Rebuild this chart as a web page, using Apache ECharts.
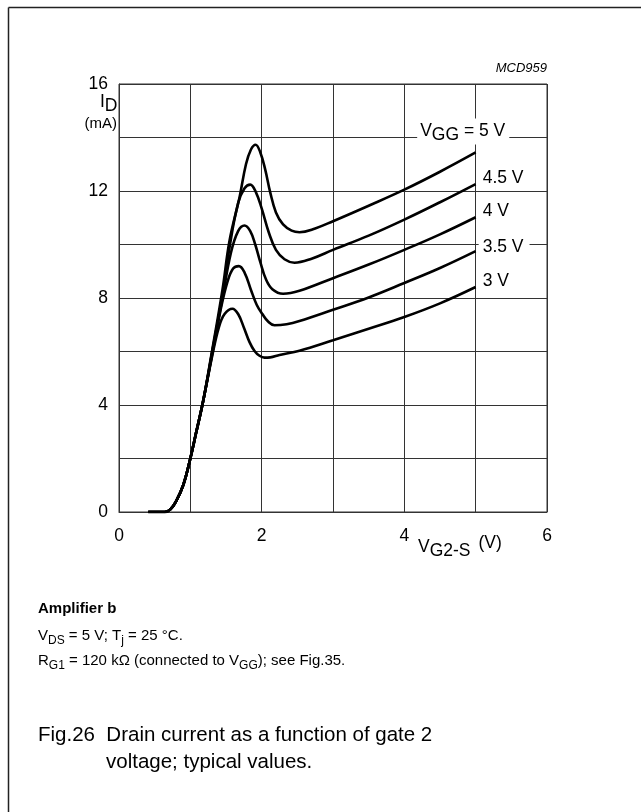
<!DOCTYPE html>
<html><head><meta charset="utf-8">
<script src="https://cdn.jsdelivr.net/npm/echarts@6/dist/echarts.min.js"></script>
<style>html,body{margin:0;padding:0;background:#fff}#c{width:641px;height:812px}</style>
</head><body><div id="c"></div>
<script>
// ---- data ----
const xTickLabels = [0, 2, 4, 6];
const yTickLabels = [0, 4, 8, 12, 16];
// common rising part shared by all curves
const riseX = [0.41, 0.64, 0.72, 0.80, 0.90, 1.00, 1.08, 1.18];
const riseY = [0, 0, 0.1, 0.4, 1.0, 2.0, 2.95, 4.15];
// VGG = 3 V
const v30X = [1.30, 1.40, 1.48, 1.59, 1.67, 1.75, 1.83, 1.90, 1.97, 2.04, 2.12, 2.25, 2.53, 3.00, 3.50, 4.00, 4.50, 5.00];
const v30Y = [5.75, 6.9, 7.4, 7.6, 7.4, 6.9, 6.35, 6.02, 5.84, 5.77, 5.78, 5.87, 6.03, 6.42, 6.85, 7.29, 7.8, 8.41];
// VGG = 3.5 V
const v35X = [1.30, 1.42, 1.52, 1.60, 1.68, 1.76, 1.85, 1.93, 2.01, 2.09, 2.18, 2.35, 2.53, 3.00, 3.50, 4.00, 4.50, 5.00];
const v35Y = [5.8, 7.5, 8.6, 9.1, 9.19, 8.95, 8.3, 7.75, 7.4, 7.12, 6.98, 7.02, 7.14, 7.56, 8.02, 8.56, 9.12, 9.75];
// VGG = 4 V
const v40X = [1.30, 1.45, 1.57, 1.67, 1.76, 1.84, 1.91, 1.98, 2.06, 2.15, 2.30, 2.53, 3.00, 3.50, 4.00, 4.50, 5.00];
const v40Y = [5.85, 8.0, 9.7, 10.5, 10.71, 10.5, 10.0, 9.35, 8.7, 8.33, 8.16, 8.27, 8.74, 9.25, 9.8, 10.38, 11.02];
// VGG = 4.5 V
const v45X = [1.30, 1.45, 1.55, 1.67, 1.76, 1.84, 1.92, 2.00, 2.10, 2.20, 2.32, 2.46, 2.70, 3.00, 3.50, 4.00, 4.50, 5.00];
const v45Y = [5.9, 8.1, 9.9, 11.55, 12.1, 12.24, 11.95, 11.35, 10.45, 9.8, 9.45, 9.32, 9.47, 9.8, 10.33, 10.93, 11.58, 12.26];
// VGG = 5 V
const v50X = [1.30, 1.45, 1.55, 1.69, 1.78, 1.85, 1.915, 1.98, 2.05, 2.12, 2.20, 2.30, 2.42, 2.53, 2.75, 3.00, 3.50, 4.00, 4.50, 5.00];
const v50Y = [5.95, 8.3, 10.15, 11.77, 13.0, 13.55, 13.73, 13.45, 12.8, 11.95, 11.2, 10.75, 10.52, 10.46, 10.6, 10.87, 11.45, 12.05, 12.72, 13.44];
const curveLabels = ['3 V', '3.5 V', '4 V', '4.5 V', 'V_GG = 5 V'];

// ---- styling ----
const FONT = '"Liberation Sans", Arial, Helvetica, sans-serif';
const LBL = 17.5;
const GRID = '#333';
const richChart = {
  n: { fontSize: LBL, fontFamily: FONT, color: '#000', lineHeight: 26, verticalAlign: 'middle' },
  s: { fontSize: LBL, fontFamily: FONT, color: '#000', lineHeight: 14, verticalAlign: 'bottom' }
};
const richFoot = {
  n: { fontSize: 15, fontFamily: FONT, color: '#000', lineHeight: 22, verticalAlign: 'middle' },
  s: { fontSize: 12, fontFamily: FONT, color: '#000', lineHeight: 10, verticalAlign: 'bottom' },
  b: { fontSize: 15, fontFamily: FONT, color: '#000', fontWeight: 'bold', lineHeight: 22, verticalAlign: 'middle' }
};

function pts(xs, ys) { return xs.map((x, i) => [x, ys[i]]); }
const curves = [
  { x: v30X, y: v30Y, lab: curveLabels[0], off: [0, -6], bg: null },
  { x: v35X, y: v35Y, lab: curveLabels[1], off: [0, -4], bg: '#fff' },
  { x: v40X, y: v40Y, lab: curveLabels[2], off: [0, -6], bg: null },
  { x: v45X, y: v45Y, lab: curveLabels[3], off: [0, -6], bg: null },
  { x: v50X, y: v50Y, lab: null }
];

const chart = echarts.init(document.getElementById('c'), null, { renderer: 'canvas' });
const option = {
  animation: false,
  backgroundColor: '#fff',
  grid: { left: 119, top: 84, width: 428, height: 428, show: true, borderColor: GRID, borderWidth: 1 },
  xAxis: {
    type: 'value', min: 0, max: 6, interval: 1,
    axisLine: { show: true, lineStyle: { color: GRID, width: 1 } },
    axisTick: { show: false },
    splitLine: { show: true, lineStyle: { color: GRID, width: 1 } },
    axisLabel: {
      margin: 15, color: '#000', fontSize: LBL, fontFamily: FONT,
      showMinLabel: true, showMaxLabel: true,
      formatter: v => (xTickLabels.indexOf(v) >= 0 ? String(v) : '')
    }
  },
  yAxis: {
    type: 'value', min: 0, max: 16, interval: 2,
    axisLine: { show: true, lineStyle: { color: GRID, width: 1 } },
    axisTick: { show: false },
    splitLine: { show: true, lineStyle: { color: GRID, width: 1 } },
    axisLabel: {
      margin: 11, color: '#000', fontSize: LBL, fontFamily: FONT,
      showMinLabel: true, showMaxLabel: true,
      formatter: v => (yTickLabels.indexOf(v) >= 0 ? String(v) : '')
    }
  },
  series: curves.map(c => ({
    type: 'line',
    data: pts(riseX.concat(c.x), riseY.concat(c.y)),
    smooth: 0.4,
    symbol: 'none',
    lineStyle: { color: '#000', width: 2.6 },
    z: 3,
    endLabel: c.lab ? {
      show: true,
      formatter: c.lab,
      distance: c.bg ? 3 : 7,
      offset: c.off,
      color: '#000', fontSize: LBL, fontFamily: FONT,
      backgroundColor: c.bg || 'transparent',
      padding: c.bg ? [1, 6, 1, 4] : 0
    } : { show: false }
  }))
};
chart.setOption(option);

// annotation texts
const p5 = chart.convertToPixel({ xAxisIndex: 0, yAxisIndex: 0 }, [4.18, 14]);
const parts = curveLabels[4].split('_');
const sub = parts[1].split(' ')[0];
const rest = parts[1].slice(sub.length);
option.graphic = [
  { type: 'line', shape: { x1: 8.5, y1: 7.5, x2: 641, y2: 7.5 }, style: { stroke: '#222', lineWidth: 1.5 } },
  { type: 'line', shape: { x1: 8.5, y1: 7.5, x2: 8.5, y2: 812 }, style: { stroke: '#222', lineWidth: 1.5 } },
  { type: 'text', x: 547, y: 68, style: { text: 'MCD959', font: 'italic 13px ' + FONT, fill: '#000', align: 'right', verticalAlign: 'middle' } },
  { type: 'text', x: p5[0], y: p5[1] - 6, z: 10, style: {
      text: '{n|' + parts[0] + '}{s|' + sub + '}{n|' + rest + '}', rich: richChart,
      align: 'left', verticalAlign: 'middle', backgroundColor: '#fff', padding: [0, 4, 0, 3] } },
  { type: 'text', x: 100, y: 102, style: { text: '{n|I}{s|D}', rich: richChart, align: 'left', verticalAlign: 'middle' } },
  { type: 'text', x: 117, y: 124, style: { text: '(mA)', font: '15px ' + FONT, fill: '#000', align: 'right', verticalAlign: 'middle' } },
  { type: 'text', x: 418, y: 547, style: { text: '{n|V}{s|G2-S}{u|(V)}', rich: Object.assign({}, richChart, { u: { fontSize: LBL, fontFamily: FONT, color: '#000', lineHeight: 20, verticalAlign: 'top', padding: [0, 0, 0, 8] } }), align: 'left', verticalAlign: 'middle' } },
  { type: 'text', x: 38, y: 609, style: { text: '{b|Amplifier b}', rich: richFoot, align: 'left', verticalAlign: 'middle' } },
  { type: 'text', x: 38, y: 636, style: { text: '{n|V}{s|DS}{n| = 5 V; T}{s|j}{n| = 25 °C.}', rich: richFoot, align: 'left', verticalAlign: 'middle' } },
  { type: 'text', x: 38, y: 661, style: { text: '{n|R}{s|G1}{n| = 120 kΩ (connected to V}{s|GG}{n|); see Fig.35.}', rich: richFoot, align: 'left', verticalAlign: 'middle' } },
  { type: 'text', x: 38, y: 735, style: { text: 'Fig.26  Drain current as a function of gate 2', font: '20.5px ' + FONT, fill: '#000', align: 'left', verticalAlign: 'middle' } },
  { type: 'text', x: 106, y: 762, style: { text: 'voltage; typical values.', font: '20.5px ' + FONT, fill: '#000', align: 'left', verticalAlign: 'middle' } }
];
chart.setOption(option);
</script></body></html>
